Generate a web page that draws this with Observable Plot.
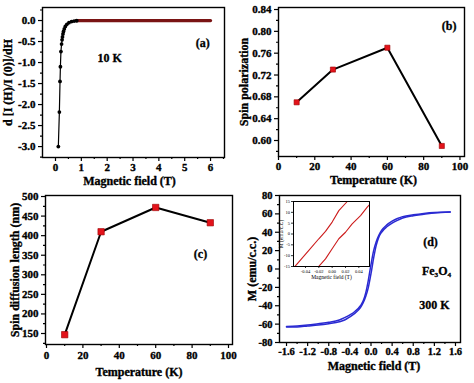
<!DOCTYPE html>
<html><head><meta charset="utf-8">
<script src="https://cdn.jsdelivr.net/npm/d3@7"></script>
<script src="https://cdn.jsdelivr.net/npm/@observablehq/plot@0.6"></script>
<style>
html,body{margin:0;padding:0;background:#fff;}
#wrap{position:relative;width:474px;height:383px;overflow:hidden;background:#fff;}
#wrap svg{position:absolute;left:0;top:0;}
</style></head><body><div id="wrap"></div>
<script>
// ---------- data ----------
// (a) derivative of normalized intensity vs field, 10 K
const aField = [0.11, 0.15, 0.175, 0.19, 0.21, 0.235, 0.255, 0.27, 0.29, 0.31, 0.34, 0.38, 0.44, 0.52, 0.62, 0.72, 0.82];
const aDeriv = [-3.0, -2.18, -1.45, -1.1, -0.74, -0.56, -0.46, -0.39, -0.32, -0.26, -0.2, -0.14, -0.09, -0.05, -0.025, -0.012, -0.005];
const aTailField = [0.8, 6.0];
const aTailDeriv = [0, 0];
// (b) spin polarization vs temperature
const bTemp = [10, 30, 60, 90];
const bPol = [0.67, 0.73, 0.77, 0.59];
// (c) spin diffusion length vs temperature
const cTemp = [10, 30, 60, 90];
const cLen = [147, 410, 472, 433];
// (d) M-H loop of Fe3O4 at 300 K
const dField = [-1.6, -1.4, -1.2, -1.0, -0.8, -0.6, -0.5, -0.4, -0.3, -0.2, -0.15, -0.1, -0.05, 0, 0.05, 0.1, 0.15, 0.2, 0.3, 0.4, 0.5, 0.6, 0.8, 1.0, 1.2, 1.5];
const dAscending = [-63, -63, -62, -61, -59.5, -57.5, -55.5, -52, -48, -42, -37, -30, -20, -5, 12, 26, 35, 40, 46, 50, 53, 55.5, 58, 59.5, 61, 62];
const dDescending = [-62.5, -62, -61, -59.5, -58, -55.5, -53, -50, -46, -40, -35, -26, -12, 5, 20, 30, 37, 42, 48, 52, 55, 57, 59, 60.5, 61.5, 62];
// (d) inset: low-field zoom
const inLeftField = [-0.056, -0.0525, -0.035, -0.020, -0.010, 0.000, 0.010, 0.0226];
const inLeftM = [-15, -13.8, -7.6, -2.2, 1.2, 5.5, 10.8, 15];
const inRightField = [-0.020, -0.010, 0.000, 0.010, 0.020, 0.030, 0.0426, 0.0526, 0.056];
const inRightM = [-14.9, -11.5, -6.8, -2.2, 0.8, 4.7, 8.5, 12.4, 13.5];

// tick values
const aXTicks = [0, 1, 2, 3, 4, 5, 6];
const aXMinor = [0.5, 1.5, 2.5, 3.5, 4.5, 5.5, 6.5];
const aYTicks = [0, -0.5, -1, -1.5, -2, -2.5, -3];
const aYMinor = [0.25, -0.25, -0.75, -1.25, -1.75, -2.25, -2.75, -3.25];
const tTicks = [0, 20, 40, 60, 80, 100];
const tMinor = [10, 30, 50, 70, 90];
const bYTicks = [0.60, 0.64, 0.68, 0.72, 0.76, 0.80, 0.84];
const bYMinor = [0.58, 0.62, 0.66, 0.70, 0.74, 0.78, 0.82];
const cYTicks = [150, 200, 250, 300, 350, 400, 450, 500];
const cYMinor = [125, 175, 225, 275, 325, 375, 425, 475];
const dXTicks = [-1.6, -1.2, -0.8, -0.4, 0, 0.4, 0.8, 1.2, 1.6];
const dXMinor = [-1.4, -1.0, -0.6, -0.2, 0.2, 0.6, 1.0, 1.4];
const dYTicks = [-80, -60, -40, -20, 0, 20, 40, 60, 80];
const dYMinor = [-70, -50, -30, -10, 10, 30, 50, 70];
const inXTicks = [-0.04, -0.02, 0, 0.02, 0.04];
const inYTicks = [-15, -10, -5, 0, 5, 10, 15];

// ---------- layout helpers ----------
const W = 474, H = 383;
const FONT = "'Liberation Serif','Times New Roman',serif";
const zip = (xs, ys) => xs.map((x, i) => ({x, y: ys[i]}));

function panel({box, xd, yd, marks, xTicks, xMinor, yTicks, yMinor, xFmt, yFmt,
                xLabel, yLabel, xdy, ydx, xdx = 0, fs = 11, lfs = 12, ts = 4, ms = 2, fw = 1.4, tw = 1.2, pad = 3, xpad = pad,
                bold = "bold", heavy = 0.35, frameFill = "none"}) {
  const [x0, y0, x1, y1] = box;
  const tickOnly = {tickFormat: () => "", fill: "none", fontSize: 1, strokeWidth: tw, label: null};
  const txt = {fontWeight: bold, fontFamily: FONT, fill: "black", stroke: heavy ? "black" : "none", strokeWidth: heavy};
  const m = [Plot.frame({fill: frameFill, stroke: "none"}), ...marks];
  // tick lines (labels are drawn separately below)
  m.push(Plot.axisX(xTicks, {anchor: "bottom", tickSize: ts, ...tickOnly}));
  if (xMinor) m.push(Plot.axisX(xMinor, {anchor: "bottom", tickSize: ms, ...tickOnly}));
  m.push(Plot.axisY(yTicks, {anchor: "left", tickSize: ts, ...tickOnly}));
  if (yMinor) m.push(Plot.axisY(yMinor, {anchor: "left", tickSize: ms, ...tickOnly}));
  // tick labels
  m.push(Plot.text(xTicks, {x: d => d, frameAnchor: "bottom", dy: ts + xpad, text: xFmt, textAnchor: "middle", lineAnchor: "top", fontSize: fs, ...txt}));
  m.push(Plot.text(yTicks, {y: d => d, frameAnchor: "left", dx: -(ts + pad), text: yFmt, textAnchor: "end", lineAnchor: "middle", fontSize: fs, ...txt}));
  m.push(Plot.frame({stroke: "black", strokeWidth: fw}));
  // axis titles
  m.push(Plot.text([xLabel], {frameAnchor: "bottom", dx: xdx, dy: xdy, textAnchor: "middle", lineAnchor: "middle", fontSize: lfs, ...txt}));
  m.push(Plot.text([yLabel], {frameAnchor: "left", dx: ydx, rotate: -90, textAnchor: "middle", lineAnchor: "middle", fontSize: lfs, ...txt}));
  return Plot.plot({
    width: W, height: H,
    marginLeft: x0, marginRight: W - x1, marginTop: y0, marginBottom: H - y1,
    x: {domain: xd, axis: null},
    y: {domain: yd, axis: null},
    style: {background: "transparent", fontFamily: FONT, color: "black", overflow: "visible"},
    marks: m
  });
}
const f1 = d => d.toFixed(1);
const f2 = d => d.toFixed(2);
const f0 = d => String(d);
const note = (txt, x, y, size = 12) => Plot.text([txt], {x: () => x, y: () => y, fontSize: size, fontWeight: "bold", fontFamily: FONT, fill: "black", stroke: "black", strokeWidth: 0.3});
const RED = "#e3131b", REDEDGE = "#9a0000", BLUE = "#2a2ad2";

const wrap = document.getElementById("wrap");

// (a)
wrap.append(panel({
  box: [42, 7, 224, 157], xd: [-0.503, 6.54], yd: [-3.26, 0.31],
  xTicks: aXTicks, xMinor: aXMinor, yTicks: aYTicks, yMinor: aYMinor, xFmt: f0, yFmt: f1,
  xLabel: "Magnetic field (T)", yLabel: "d [I (H)/I (0)]/dH", xdy: 24, xdx: -4, ydx: -34, xpad: 2,
  marks: [
    Plot.line(zip(aTailField, aTailDeriv), {x: "x", y: "y", stroke: "#7a1414", strokeWidth: 3.2}),
    Plot.line(zip(aField, aDeriv), {x: "x", y: "y", stroke: "black", strokeWidth: 1.2}),
    Plot.dot(zip(aField, aDeriv), {x: "x", y: "y", r: 1.9, fill: "black"}),
    note("10 K", 2.1, -0.9),
    note("(a)", 5.7, -0.55)
  ]
}));

// (b)
wrap.append(panel({
  box: [278, 7, 464, 156], xd: [0, 102.5], yd: [0.5707, 0.8437],
  xTicks: tTicks, xMinor: tMinor, yTicks: bYTicks, yMinor: bYMinor, xFmt: f0, yFmt: f2,
  xLabel: "Temperature (K)", yLabel: "Spin polarization", xdy: 24, xdx: 2, ydx: -34, xpad: 1.5,
  marks: [
    Plot.line(zip(bTemp, bPol), {x: "x", y: "y", stroke: "black", strokeWidth: 2}),
    Plot.dot(zip(bTemp, bPol), {x: "x", y: "y", symbol: "square", r: 2.9, fill: RED, stroke: REDEDGE, strokeWidth: 0.6}),
    note("(b)", 94, 0.81)
  ]
}));

// (c)
wrap.append(panel({
  box: [45, 195, 232, 344], xd: [-0.55, 102.2], yd: [121.9, 502.6],
  xTicks: tTicks, xMinor: tMinor, yTicks: cYTicks, yMinor: cYMinor, xFmt: f0, yFmt: f0,
  xLabel: "Temperature (K)", yLabel: "Spin diffusion length (nm)", xdy: 28, ydx: -30,
  marks: [
    Plot.line(zip(cTemp, cLen), {x: "x", y: "y", stroke: "black", strokeWidth: 2}),
    Plot.dot(zip(cTemp, cLen), {x: "x", y: "y", symbol: "square", r: 3.6, fill: RED, stroke: REDEDGE, strokeWidth: 0.6}),
    note("(c)", 84.6, 354)
  ]
}));

// (d)
wrap.append(panel({
  box: [279, 195, 460, 342], xd: [-1.733, 1.695], yd: [-80, 80],
  xTicks: dXTicks, xMinor: dXMinor, yTicks: dYTicks, yMinor: dYMinor, xFmt: f1, yFmt: f0,
  xLabel: "Magnetic field (T)", yLabel: "M (emu/c.c.)", xdy: 24, xdx: 4, ydx: -27, fs: 10.5, xpad: 1.5,
  marks: [
    Plot.line(zip(dField, dAscending), {x: "x", y: "y", stroke: BLUE, strokeWidth: 1.5, curve: "monotone-x"}),
    Plot.line(zip(dField, dDescending), {x: "x", y: "y", stroke: BLUE, strokeWidth: 1.5, curve: "monotone-x"}),
    note("(d)", 1.127, 28.8),
    note("Fe\u2083O\u2084", 1.24, -2.7),
    note("300 K", 1.2, -39.7)
  ]
}));

// (d) inset
wrap.append(panel({
  box: [293, 201, 369, 266], xd: [-0.058, 0.056], yd: [-15, 15],
  xTicks: inXTicks, yTicks: inYTicks, xFmt: f2, yFmt: f0,
  xLabel: "Magnetic field (T)", yLabel: "M (emu/c.c.)", xdy: 11, ydx: -12,
  fs: 4.5, lfs: 5.5, ts: 2, fw: 1, tw: 0.8, pad: 1.5, bold: "normal", heavy: 0, frameFill: "white",
  marks: [
    Plot.line(zip(inLeftField, inLeftM), {x: "x", y: "y", stroke: "#cc1b1b", strokeWidth: 1.1, clip: true}),
    Plot.line(zip(inRightField, inRightM), {x: "x", y: "y", stroke: "#cc1b1b", strokeWidth: 1.1, clip: true})
  ]
}));
</script></body></html>
